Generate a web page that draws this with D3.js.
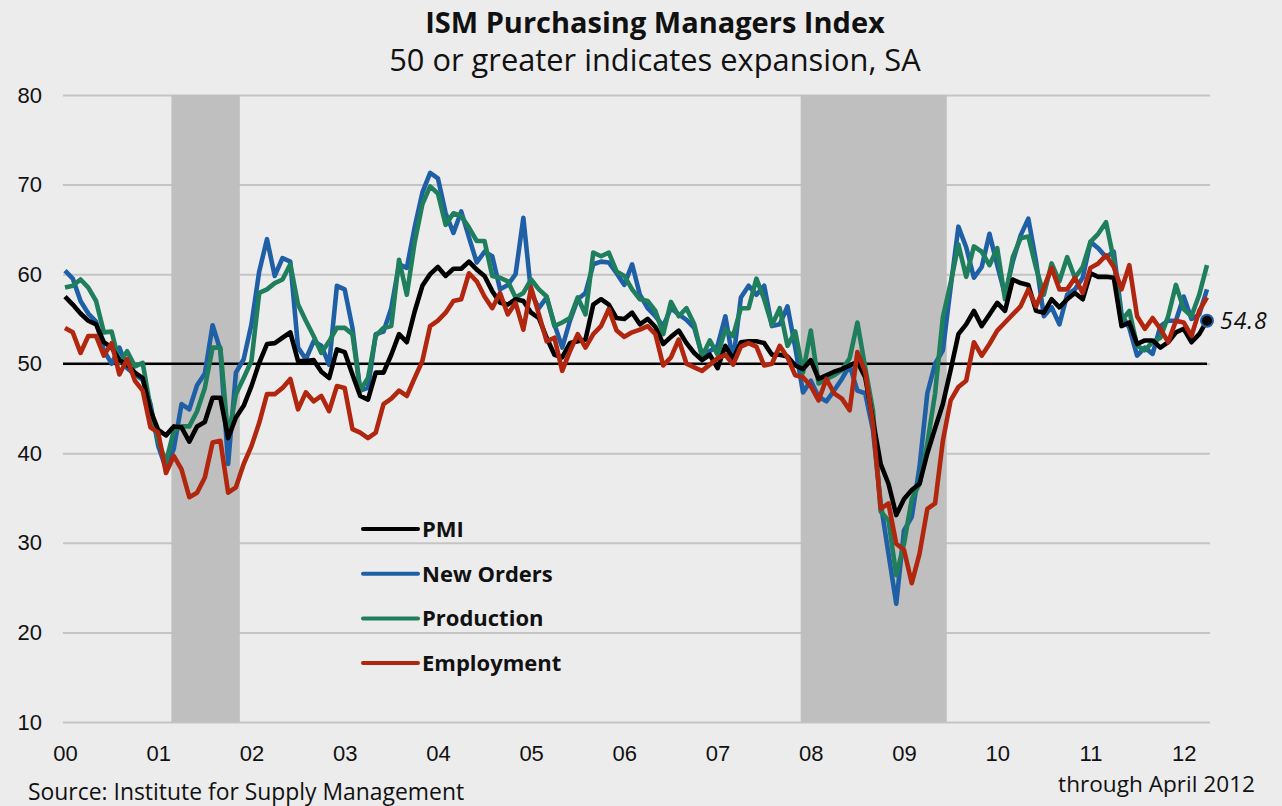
<!DOCTYPE html>
<html>
<head>
<meta charset="utf-8">
<script src="https://cdn.jsdelivr.net/npm/d3@7"></script>
<style>
  html, body { margin: 0; padding: 0; background: #ececec; }
  svg { display: block; font-family: "Open Sans", "Noto Sans", sans-serif; }
</style>
</head>
<body>
<div id="chart"></div>
<script>

// monthly readings, Jan 2000 .. Apr 2012
var pmi = [
	57.5, 56.6, 55.6, 54.8, 54.4, 52.4, 51.8, 50.4, 49.9, 49.0, 48.4, 44.8,
	42.6, 42.0, 43.0, 42.9, 41.3, 43.0, 43.5, 46.2, 46.2, 41.7, 44.0, 45.3,
	47.5, 50.1, 52.2, 52.3, 52.9, 53.5, 50.3, 50.3, 50.4, 49.1, 48.4, 51.6,
	51.3, 48.8, 46.4, 46.0, 49.0, 49.0, 51.0, 53.3, 52.4, 55.8, 58.7, 60.0,
	60.8, 59.8, 60.6, 60.6, 61.4, 60.5, 59.8, 58.1, 56.8, 56.6, 57.2, 57.0,
	55.7, 55.1, 52.9, 51.0, 50.7, 52.3, 52.5, 52.7, 56.6, 57.2, 56.6, 55.1,
	55.0, 55.7, 54.4, 55.0, 54.1, 52.2, 53.0, 53.7, 52.3, 51.2, 50.4, 51.0,
	49.5, 52.0, 50.5, 52.4, 52.5, 52.5, 52.3, 51.0, 51.0, 50.8, 49.8, 49.4,
	50.4, 48.3, 48.7, 49.1, 49.4, 49.8, 50.2, 48.5, 43.7, 38.8, 36.6, 33.1,
	34.9, 35.9, 36.6, 40.0, 42.8, 45.5, 49.3, 53.3, 54.4, 55.9, 54.2, 55.5,
	56.8, 55.9, 59.4, 59.0, 58.8, 55.9, 55.7, 57.2, 56.3, 57.2, 57.9, 57.2,
	60.1, 59.7, 59.7, 59.6, 54.2, 54.6, 52.2, 52.6, 52.6, 51.8, 52.4, 53.5,
	53.9, 52.4, 53.3, 54.8
];
var newOrders = [
	60.4, 59.5, 57.0, 55.6, 54.7, 51.5, 50.0, 51.8, 49.5, 48.8, 48.2, 45.5,
	40.8, 38.3, 40.5, 45.5, 44.9, 47.6, 48.9, 54.3, 51.5, 38.8, 49.0, 50.5,
	54.4, 60.3, 63.9, 59.8, 61.8, 61.4, 51.8, 50.5, 52.5, 52.0, 49.9, 58.7,
	58.3, 54.0, 47.0, 47.3, 53.3, 53.6, 56.2, 61.1, 60.7, 65.2, 69.1, 71.3,
	70.7, 66.8, 64.6, 67.0, 64.1, 61.3, 62.5, 62.0, 58.3, 58.8, 60.0, 66.3,
	57.9, 56.2, 57.4, 54.4, 51.8, 54.8, 57.2, 57.9, 61.1, 61.4, 61.3, 60.1,
	58.8, 61.1, 57.7, 56.2, 55.3, 54.2, 56.2, 55.5, 54.9, 54.0, 51.0, 51.4,
	52.0, 55.3, 50.3, 57.4, 58.7, 57.7, 58.7, 54.2, 54.4, 56.4, 51.8, 46.8,
	48.1, 46.3, 45.8, 47.0, 48.3, 49.8, 47.0, 46.7, 42.6, 34.4, 28.8, 23.2,
	31.4, 32.9, 38.5, 46.7, 50.0, 51.5, 58.5, 65.3, 63.0, 59.6, 60.8, 64.5,
	61.0, 57.7, 61.4, 64.3, 66.2, 61.4, 55.3, 56.3, 54.4, 57.7, 58.3, 59.6,
	63.6, 62.9, 61.9, 62.5, 55.5, 54.0, 50.9, 51.8, 51.1, 54.2, 54.8, 54.8,
	57.5, 55.0, 55.5, 58.3
];
var production = [
	58.5, 58.7, 59.4, 58.5, 57.0, 53.5, 53.6, 50.1, 51.4, 49.7, 50.1, 45.1,
	41.4, 39.0, 42.5, 43.0, 43.0, 44.7, 47.3, 51.8, 51.8, 41.7, 46.6, 48.4,
	50.3, 57.9, 58.3, 59.0, 59.4, 61.1, 56.6, 54.8, 53.1, 51.2, 52.5, 54.0,
	54.0, 53.3, 47.0, 48.4, 53.1, 54.0, 54.2, 61.6, 57.7, 63.5, 67.8, 69.8,
	69.0, 65.5, 66.8, 66.5, 65.2, 63.7, 63.7, 59.8, 59.6, 59.2, 57.4, 57.9,
	59.4, 58.3, 57.5, 54.2, 54.6, 55.1, 57.4, 55.5, 62.4, 62.0, 62.4, 60.3,
	59.8, 58.3, 57.2, 57.0, 55.9, 53.3, 56.9, 55.3, 56.2, 54.4, 50.8, 52.6,
	51.0, 53.8, 53.1, 56.2, 56.2, 59.5, 57.2, 54.3, 56.2, 52.0, 53.6, 49.0,
	53.7, 47.8, 48.3, 48.7, 49.3, 50.6, 54.6, 49.6, 44.8, 33.5, 32.5, 26.4,
	29.9, 34.9, 36.6, 41.1, 46.7, 55.2, 59.0, 63.3, 59.7, 63.1, 62.5, 61.0,
	62.9, 57.2, 61.9, 64.0, 64.2, 60.7, 57.7, 61.2, 59.2, 61.9, 59.6, 60.8,
	63.6, 64.5, 65.8, 61.6, 54.8, 55.9, 52.0, 51.5, 52.4, 52.9, 55.3, 58.8,
	56.1, 55.3, 57.7, 61.0
];
var employment = [
	54.0, 53.5, 51.2, 53.1, 53.1, 50.9, 52.3, 48.8, 50.5, 48.1, 47.0, 42.9,
	42.3, 37.8, 39.7, 38.2, 35.1, 35.6, 37.3, 41.2, 41.4, 35.6, 36.2, 38.8,
	40.8, 43.4, 46.6, 46.6, 47.3, 48.3, 44.9, 46.8, 45.8, 46.4, 44.7, 47.5,
	47.3, 42.7, 42.3, 41.7, 42.3, 45.5, 46.1, 47.0, 46.4, 48.4, 50.3, 54.2,
	54.8, 55.7, 57.0, 57.2, 60.1, 59.2, 57.5, 56.2, 57.9, 55.5, 56.8, 53.8,
	58.5, 55.5, 52.5, 52.9, 49.2, 51.4, 53.3, 51.8, 53.3, 54.2, 56.1, 53.7,
	53.0, 53.5, 53.8, 54.2, 53.3, 49.8, 50.7, 52.7, 50.0, 49.6, 49.2, 49.9,
	50.6, 51.0, 49.9, 51.9, 52.3, 51.9, 49.8, 50.0, 52.0, 50.7, 48.7, 48.5,
	47.5, 45.9, 48.3, 46.7, 46.1, 44.8, 51.3, 49.1, 43.3, 33.8, 34.4, 29.9,
	29.2, 25.5, 28.8, 33.8, 34.4, 41.4, 45.9, 47.4, 48.1, 52.4, 50.9, 52.2,
	53.7, 54.6, 55.5, 56.4, 58.3, 56.4, 58.5, 60.7, 58.3, 58.3, 59.6, 57.9,
	60.7, 61.2, 62.1, 60.8, 58.3, 61.0, 55.3, 53.9, 55.1, 53.9, 52.4, 54.8,
	54.6, 53.1, 55.9, 57.4
];

var seriesNames  = ['PMI', 'New Orders', 'Production', 'Employment'];
var seriesColors = ['#000000', '#1f5fa6', '#1f7f5d', '#b0260e'];
var yearLabels   = ['00','01','02','03','04','05','06','07','08','09','10','11','12'];
var yTicks       = [10, 20, 30, 40, 50, 60, 70, 80];
var recessions   = [['2001-03', '2001-11'], ['2007-12', '2009-06']];

var months = d3.timeMonth.range(new Date(2000, 0, 1), new Date(2012, 4, 1));
var parseMonth = d3.timeParse('%Y-%m');
function monthIndex(s) {
	var d = parseMonth(s);
	return (d.getFullYear() - 2000) * 12 + d.getMonth();
}

var W = 1282, H = 806;
var gridLeft = 63, gridRight = 1210;

var svg = d3.select('#chart').append('svg')
	.attr('width', W)
	.attr('height', H);

var x = d3.scaleLinear().domain([0, months.length - 1]).range([65, 1207]);
var y = d3.scaleLinear().domain([10, 80]).range([722, 95]);

// gridlines + y labels
var yAxis = svg.append('g')
	.attr('transform', 'translate(' + gridLeft + ',0)')
	.call(d3.axisLeft(y).tickValues(yTicks).tickSize(-(gridRight - gridLeft)).tickPadding(21));
yAxis.select('.domain').remove();
yAxis.selectAll('line').attr('stroke', '#c4c4c4').attr('stroke-width', 2);
yAxis.selectAll('text').attr('fill', '#111').style('font-size', '22px');

// recession bands
svg.selectAll('rect.rec')
	.data(recessions)
	.enter()
	.append('rect')
	.attr('class', 'rec')
	.attr('x', function(d) { return x(monthIndex(d[0]) - 0.3); })
	.attr('width', function(d) { return x(monthIndex(d[1]) + 0.5) - x(monthIndex(d[0]) - 0.3); })
	.attr('y', y(80))
	.attr('height', y(10) - y(80))
	.attr('fill', '#bfbfbf');

// 50 line
svg.append('line')
	.attr('x1', gridLeft).attr('x2', x(months.length - 1))
	.attr('y1', y(50)).attr('y2', y(50))
	.attr('stroke', '#000').attr('stroke-width', 2.5);

// x labels
var xAxis = svg.append('g')
	.attr('transform', 'translate(0,' + y(10) + ')')
	.call(d3.axisBottom(x)
		.tickValues(yearLabels.map(function(d, i) { return i * 12; }))
		.tickFormat(function(d, i) { return yearLabels[i]; })
		.tickSize(0).tickPadding(23));
xAxis.select('.domain').remove();
xAxis.selectAll('text').attr('fill', '#111').style('font-size', '22px');

// lines
var line = d3.line()
	.x(function(d, i) { return x(i); })
	.y(function(d) { return y(d); });

var allSeries = [pmi, newOrders, production, employment];
var drawOrder = [1, 2, 0, 3];

svg.selectAll('path.series')
	.data(drawOrder)
	.enter()
	.append('path')
	.attr('class', 'series')
	.attr('d', function(k) { return line(allSeries[k]); })
	.attr('fill', 'none')
	.attr('stroke', function(k) { return seriesColors[k]; })
	.attr('stroke-width', 4.6)
	.attr('stroke-linejoin', 'round');

// last PMI point
var last = pmi.length - 1;
svg.append('circle')
	.attr('cx', x(last)).attr('cy', y(pmi[last]))
	.attr('r', 6)
	.attr('fill', '#000')
	.attr('stroke', '#1f5fa6').attr('stroke-width', 2);
svg.append('text')
	.attr('x', x(last) + 13).attr('y', y(pmi[last]) + 8)
	.attr('fill', '#111')
	.style('font-size', '23px').style('font-style', 'italic')
	.style('letter-spacing', '1px')
	.text(pmi[last].toFixed(1));

// legend
var legend = svg.append('g').attr('transform', 'translate(363,529)');
var items = legend.selectAll('g')
	.data(seriesNames)
	.enter()
	.append('g')
	.attr('transform', function(d, i) { return 'translate(0,' + (i * 44.7) + ')'; });
items.append('line')
	.attr('x1', 0).attr('x2', 55)
	.attr('stroke', function(d, i) { return seriesColors[i]; })
	.attr('stroke-width', 4)
	.attr('stroke-linecap', 'round');
items.append('text')
	.attr('x', 59).attr('dy', '0.36em')
	.attr('fill', '#111')
	.style('font-size', '22px').style('font-weight', 'bold')
	.text(function(d) { return d; });

// titles
svg.append('text')
	.attr('x', 655).attr('y', 33)
	.attr('text-anchor', 'middle')
	.attr('fill', '#111')
	.style('font-size', '29px').style('font-weight', 'bold')
	.text('ISM Purchasing Managers Index');
svg.append('text')
	.attr('x', 655).attr('y', 71)
	.attr('text-anchor', 'middle')
	.attr('fill', '#111')
	.style('font-size', '30.8px')
	.text('50 or greater indicates expansion, SA');

// notes
svg.append('text')
	.attr('x', 28).attr('y', 800)
	.attr('fill', '#111')
	.style('font-size', '22.9px')
	.text('Source: Institute for Supply Management');
svg.append('text')
	.attr('x', 1255).attr('y', 792)
	.attr('text-anchor', 'end')
	.attr('fill', '#111')
	.style('font-size', '22.6px')
	.text('through April 2012');

</script>
</body>
</html>
